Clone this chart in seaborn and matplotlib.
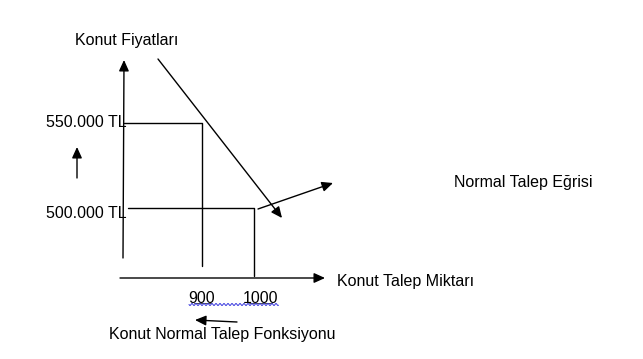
import numpy as np
import pandas as pd
import matplotlib
matplotlib.use("Agg")
import matplotlib.pyplot as plt
import seaborn as sns

# ---- data ----
quantities = [900, 1000]
prices = [550000, 500000]
price_labels = ["550.000 TL", "500.000 TL"]
qty_labels = ["900", "1000"]
title_y = "Konut Fiyatları"
title_x = "Konut Talep Miktarı"
curve_label = "Normal Talep Eğrisi"
func_label = "Konut Normal Talep Fonksiyonu"

sns.set_theme(style="white")
plt.rcParams["font.family"] = ["Liberation Sans", "DejaVu Sans"]

W, H = 643, 359
fig = plt.figure(figsize=(W / 100, H / 100), dpi=100)
ax = fig.add_axes([0, 0, 1, 1])

# pixel <-> data mapping (900 -> x=202px, 1000 -> 254px ; 550000 -> y=123px, 500000 -> 208px)
sx = (254 - 202) / (quantities[1] - quantities[0])
sy = (208 - 123) / (prices[0] - prices[1])
def qx(px):
    return quantities[0] + (px - 202) / sx
def py_(py):
    return prices[0] - (py - 123) / sy

ax.set_xlim(qx(0), qx(W))
ax.set_ylim(py_(H), py_(0))
ax.set_axis_off()

lw = 1.0
k = "black"
fs = 11.5

# step lines from data
for q, p, bottom_py, left_px in zip(quantities, prices, [266, 276], [124, 128]):
    df = pd.DataFrame({"q": [qx(left_px), q, q], "p": [p, p, py_(bottom_py)]})
    sns.lineplot(data=df, x="q", y="p", sort=False, color=k, lw=lw, ax=ax, estimator=None)

def arrow(p0, p1, ms=12):
    ax.annotate("", xy=(qx(p1[0]), py_(p1[1])), xytext=(qx(p0[0]), py_(p0[1])),
                arrowprops=dict(arrowstyle="-|>,head_length=0.55,head_width=0.25",
                                color=k, lw=lw, mutation_scale=ms,
                                shrinkA=0, shrinkB=0))

# axes arrows
arrow((123, 258), (124, 60))
arrow((120, 278), (325, 278))
# demand curve
arrow((158, 59), (282, 218))
# pointer to label
arrow((258, 209), (333, 183))
# small up arrow
arrow((77, 178), (77, 147))
# small left arrow
arrow((237, 322), (195, 320))

# texts
def txt(px, py, s, ha="left"):
    ax.text(qx(px), py_(py), s, ha=ha, va="center", fontsize=fs, color=k)

txt(75, 40, title_y)
txt(46, 122, price_labels[0])
txt(46, 213, price_labels[1])
txt(454, 183, curve_label)
txt(337, 281, title_x)
txt(109, 334, func_label)
label_shift_px = [0, 6]
for q, lab, dx in zip(quantities, qty_labels, label_shift_px):
    ax.text(q + dx / sx, py_(298), lab, ha="center", va="center", fontsize=fs, color=k)

# black underline under numbers, blue wavy underline
for q, lab, dx in zip(quantities, qty_labels, label_shift_px):
    half = 8 if len(lab) == 3 else 11
    cx = 202 + (q - quantities[0]) * sx + dx
    ax.plot([qx(cx - half), qx(cx + half + 1)], [py_(302.5), py_(302.5)], color="#333333", lw=0.6)
wx = np.arange(189, 279, 0.5)
wy = 304.5 + 1.0 * np.sin((wx - 189) * 2 * np.pi / 4)
ax.plot(qx(wx), py_(wy), color="#3333dd", lw=0.7)

fig.savefig("out.png", dpi=100)
